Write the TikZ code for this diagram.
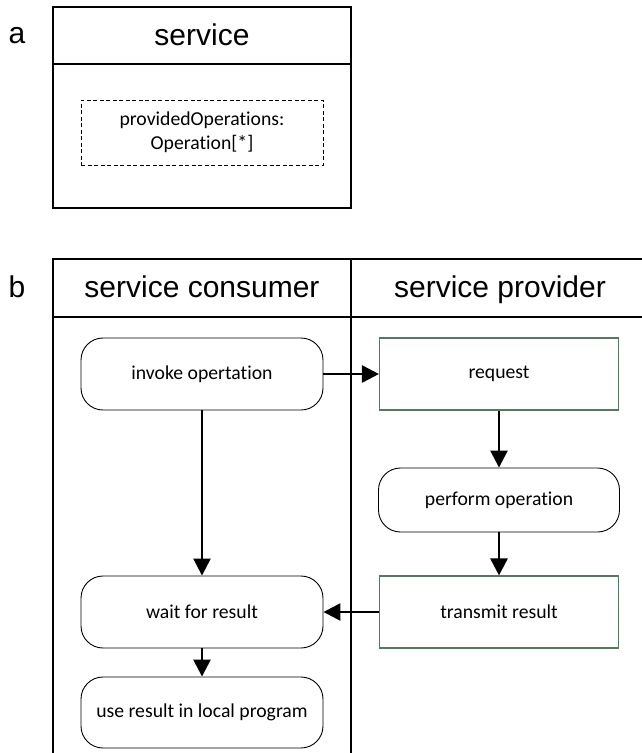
\documentclass[tikz,border=0pt]{standalone}
\usepackage{fontspec}
\setmainfont{Carlito}[Ligatures=NoCommon]
\newfontfamily\headfont{Liberation Sans}
\usetikzlibrary{arrows.meta}
\definecolor{provgreen}{RGB}{84,120,96}
\tikzset{
  frameline/.style={draw=black, line width=1.1pt},
  headtext/.style={font=\headfont\fontsize{30}{34}\selectfont, inner sep=0pt, anchor=base},
  actbox/.style={draw=black, line width=0.9pt, rounded corners=22pt, inner sep=0pt,
    minimum width=242pt, font=\fontsize{19.7}{23}\selectfont, align=center},
  msgbox/.style={draw=provgreen, line width=1.1pt, inner sep=0pt,
    minimum width=239pt, minimum height=72pt, font=\fontsize{19.7}{23}\selectfont, align=center},
  attrbox/.style={draw=black, line width=0.8pt, dash pattern=on 4pt off 2.5pt, inner sep=0pt,
    minimum width=242pt, minimum height=65pt, font=\fontsize{19.7}{24}\selectfont, align=center},
  flow/.style={line width=2.6pt, -{Triangle[length=17pt,width=17pt]}}
}
\begin{document}
\begin{tikzpicture}[x=1pt,y=-1pt]
\useasboundingbox[fill=white] (0,0) rectangle (642,753);

% (a) the service class
\node[headtext] (la) at (17,43.5) {a};
\draw[frameline] (53,7) rectangle (351,208);
\draw[frameline] (53,64) -- (351,64);
\node[headtext] (svc) at (202,45) {service};
\node[attrbox] (ops) at (202,132.5) {providedOperations:\\Operation[*]};

% (b) swim lanes for consumer and provider
\node[headtext] (lb) at (17,297.5) {b};
\draw[frameline] (642,259) -- (53,259) -- (53,753);
\draw[frameline] (53,317) -- (642,317);
\draw[frameline] (351,259) -- (351,753);
\node[headtext] (cons) at (202,297.5) {service consumer};
\node[headtext] (prov) at (500,297.5) {service provider};

% activities
\node[actbox, minimum height=72pt] (invoke) at (202,374) {invoke opertation};
\node[msgbox] (request) at (499,374) {request};
\node[actbox, minimum width=241pt, minimum height=64pt] (perform) at (499,500) {perform operation};
\node[actbox, minimum height=72pt] (wait) at (202,612) {wait for result};
\node[msgbox] (transmit) at (499,612) {transmit result};
\node[actbox, minimum height=71pt] (use) at (202,712.5) {use result in local program};

% control flow
\draw[flow] (invoke.east) -- (request.west);
\draw[flow] (request.south) -- (perform.north);
\draw[flow] (perform.south) -- (transmit.north);
\draw[flow] (invoke.south) -- (wait.north);
\draw[flow] (transmit.west) -- (wait.east);
\draw[flow] (wait.south) -- (use.north);
\end{tikzpicture}
\end{document}
